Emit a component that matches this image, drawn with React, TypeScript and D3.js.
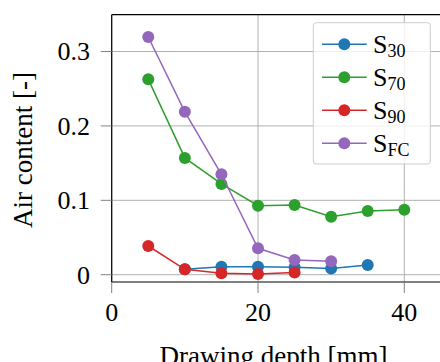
import React from "react";
import * as d3 from "d3";

// drawing depth [mm]
const depth = [5, 10, 15, 20, 25, 30, 35, 40];

const s30 = [null, 0.0073, 0.0108, 0.0108, 0.0099, 0.0085, 0.0132, null];
const s70 = [0.2626, 0.157, 0.122, 0.0927, 0.0937, 0.078, 0.0856, 0.0874];
const s90 = [0.0386, 0.0073, 0.0019, 0.001, 0.003, null, null, null];
const sFC = [0.3195, 0.219, 0.135, 0.0355, 0.0198, 0.018, null, null];

const seriesNames = ["30", "70", "90", "FC"];
const seriesColors = ["#1f77b4", "#2ca02c", "#d62728", "#9467bd"];

const xTicks = [0, 20, 40];
const yTicks = [0, 0.1, 0.2, 0.3];

const W = 440;
const H = 362;
const txt = { fontFamily: '"Liberation Serif"' };

export default function App() {
  const x = d3.scaleLinear().domain([0, 46]).range([111.7, 111.7 + 46 * 7.315]);
  const y = d3.scaleLinear().domain([-0.0098, 0.3495]).range([282, 14.7]);
  const left = x(0);
  const top = y(0.3495);
  const bottom = y(-0.0098);

  const all = [s30, s70, s90, sFC];
  const line = d3
    .line<[number, number]>()
    .x((d) => x(d[0]))
    .y((d) => y(d[1]));

  return (
    <svg width={W} height={H} style={{ position: "absolute", left: 0, top: 0, background: "#fff" }}>
      {/* grid */}
      {xTicks.map((t) => (
        <line key={"gx" + t} x1={x(t)} x2={x(t)} y1={top} y2={bottom} stroke="#b0b0b0" strokeWidth={1} />
      ))}
      {yTicks.map((t) => (
        <line key={"gy" + t} x1={left} x2={W} y1={y(t)} y2={y(t)} stroke="#b0b0b0" strokeWidth={1} />
      ))}

      {/* series */}
      {all.map((vals, i) => {
        const pts = depth
          .map((d, j) => [d, vals[j]] as [number, number | null])
          .filter((p) => p[1] !== null) as [number, number][];
        return (
          <g key={i}>
            <path d={line(pts) || ""} fill="none" stroke={seriesColors[i]} strokeWidth={1.5} />
            {pts.map((p, k) => (
              <circle key={k} cx={x(p[0])} cy={y(p[1])} r={6} fill={seriesColors[i]} />
            ))}
          </g>
        );
      })}

      {/* spines */}
      <line x1={left} x2={left} y1={top} y2={bottom} stroke="#000" strokeWidth={1.2} />
      <line x1={left} x2={W} y1={top} y2={top} stroke="#000" strokeWidth={1.2} />
      <line x1={left} x2={W} y1={bottom} y2={bottom} stroke="#000" strokeWidth={1.2} />

      {/* ticks */}
      {xTicks.map((t) => (
        <g key={"tx" + t}>
          <line x1={x(t)} x2={x(t)} y1={bottom} y2={bottom + 11} stroke="#808080" strokeWidth={1} />
          <text x={x(t)} y={320.5} fontSize={26} textAnchor="middle" style={txt}>
            {t}
          </text>
        </g>
      ))}
      {yTicks.map((t) => (
        <g key={"ty" + t}>
          <line x1={left - 11} x2={left} y1={y(t)} y2={y(t)} stroke="#808080" strokeWidth={1} />
          <text x={90} y={y(t) + 8.8} fontSize={26} textAnchor="end" style={txt}>
            {t === 0 ? "0" : t.toFixed(1)}
          </text>
        </g>
      ))}

      {/* axis labels */}
      <text x={273.5} y={365} fontSize={27} textAnchor="middle" style={txt}>
        Drawing depth [mm]
      </text>
      <text transform="translate(32,150) rotate(-90)" fontSize={27} textAnchor="middle" style={txt}>
        Air content [-]
      </text>

      {/* legend */}
      <rect x={313.3} y={22.7} width={117} height={141.3} rx={3} fill="#fff" fillOpacity={0.8} stroke="#cccccc" strokeWidth={1} />
      {seriesNames.map((n, i) => {
        const cy = 44.3 + i * 33;
        return (
          <g key={"lg" + n}>
            <line x1={322} x2={366.7} y1={cy} y2={cy} stroke={seriesColors[i]} strokeWidth={1.5} />
            <circle cx={344.3} cy={cy} r={6} fill={seriesColors[i]} />
            <text x={373} y={cy + 8.4} fontSize={26} style={txt}>
              S
              <tspan fontSize={18} dy={4}>
                {n}
              </tspan>
            </text>
          </g>
        );
      })}
    </svg>
  );
}
